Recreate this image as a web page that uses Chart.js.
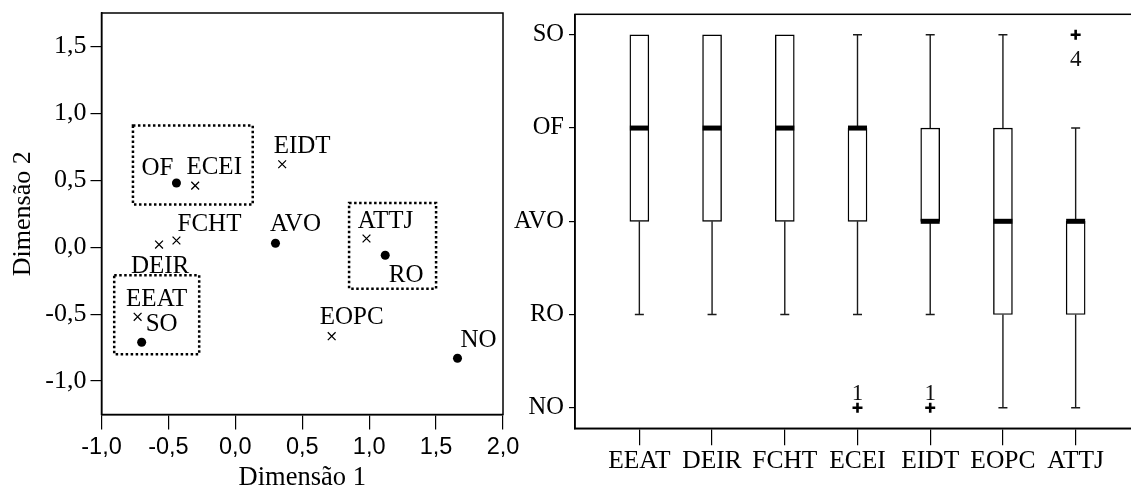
<!DOCTYPE html>
<html>
<head>
<meta charset="utf-8">
<script src="https://cdn.jsdelivr.net/npm/chart.js@4.4.1/dist/chart.umd.min.js"></script>
<style>
  html, body { margin: 0; padding: 0; background: #fff; overflow: hidden; }
  #wrap { position: relative; width: 1131px; height: 494px; overflow: hidden; }
  #mapChart { position: absolute; left: 0; top: 0; }
  #boxChart { position: absolute; left: 500px; top: 0; }
</style>
</head>
<body>
<div id="wrap">
  <canvas id="mapChart" width="520" height="494"></canvas>
  <canvas id="boxChart" width="650" height="494"></canvas>
</div>
<script>
// Left: correspondence map (variables = x marks, answer levels = dots)
// Right: box plots of the answers per variable, ordinal scale NO..SO

const varNames = ['EEAT', 'DEIR', 'FCHT', 'ECEI', 'EIDT', 'EOPC', 'ATTJ'];
const varDim1 = [-0.73, -0.57, -0.44, -0.30, 0.35, 0.72, 0.98];
const varDim2 = [-0.52, 0.02, 0.05, 0.46, 0.62, -0.665, 0.065];

const levelNames = ['SO', 'OF', 'AVO', 'RO', 'NO'];
const levelDim1 = [-0.70, -0.44, 0.30, 1.12, 1.66];
const levelDim2 = [-0.71, 0.48, 0.03, -0.06, -0.83];

// dotted groupings: [dim1 from, dim1 to, dim2 from, dim2 to]
const groupBoxes = [
    [-0.765, 0.13, 0.32, 0.91],
    [0.85, 1.50, -0.31, 0.33],
    [-0.905, -0.27, -0.80, -0.21]
];

const dimTicks = [-1.0, -0.5, 0.0, 0.5, 1.0, 1.5, 2.0];
const dim2Ticks = [-1.0, -0.5, 0.0, 0.5, 1.0, 1.5];

// box plot, answers coded 1 = NO ... 5 = SO
const scaleNames = ['NO', 'RO', 'AVO', 'OF', 'SO'];
const boxMin = [2, 2, 2, 2, 2, 1, 1];
const boxQ1  = [3, 3, 3, 3, 3, 2, 2];
const boxMed = [4, 4, 4, 4, 3, 3, 3];
const boxQ3  = [5, 5, 5, 4, 4, 4, 3];
const boxMax = [5, 5, 5, 5, 5, 5, 4];
const outlierVar = [3, 4, 6];
const outlierVal = [1, 1, 5];
const outlierCase = ['1', '1', '4'];

// label placement (px from the mark: text centre x, baseline y)
const varLabelShift = [[19, -11], [1, 28], [33, -10], [19, -12], [20, -11], [20, -12], [19, -11]];
const levelLabelShift = [[20, -11], [-19, -8], [20, -12], [21, 27], [21, -11]];

const serif = "'Liberation Serif', 'Times New Roman', serif";
const sans = "'Liberation Sans', Arial, sans-serif";
Chart.defaults.color = '#000';
Chart.defaults.font.family = serif;
Chart.defaults.animation = false;

const comma = v => Number(v).toFixed(1).replace('.', ',');
// keep tick labels from pushing the plot area around
const noPad = s => { s.paddingTop = 0; s.paddingBottom = 0; s.paddingLeft = 0; s.paddingRight = 0; };

const framePlugin = {
    id: 'frame',
    afterDraw(chart) {
        const { ctx, chartArea: a } = chart;
        ctx.save();
        ctx.strokeStyle = '#000';
        ctx.lineWidth = 1.5;
        ctx.strokeRect(a.left, a.top, a.right - a.left, a.bottom - a.top);
        ctx.restore();
    }
};

const mapNotes = {
    id: 'mapNotes',
    afterDatasetsDraw(chart) {
        const { ctx, scales: { x, y } } = chart;
        ctx.save();
        // dotted group boxes
        ctx.strokeStyle = '#000';
        ctx.lineWidth = 2.5;
        ctx.setLineDash([2.5, 2.5]);
        for (const b of groupBoxes) {
            const x0 = x.getPixelForValue(b[0]), x1 = x.getPixelForValue(b[1]);
            const y0 = y.getPixelForValue(b[3]), y1 = y.getPixelForValue(b[2]);
            ctx.strokeRect(x0, y0, x1 - x0, y1 - y0);
        }
        ctx.setLineDash([]);
        // labels
        ctx.font = '25px ' + serif;
        ctx.fillStyle = '#000';
        ctx.textAlign = 'center';
        ctx.textBaseline = 'alphabetic';
        varNames.forEach((n, i) => {
            const px = x.getPixelForValue(varDim1[i]), py = y.getPixelForValue(varDim2[i]);
            ctx.fillText(n, px + varLabelShift[i][0], py + varLabelShift[i][1]);
        });
        levelNames.forEach((n, i) => {
            const px = x.getPixelForValue(levelDim1[i]), py = y.getPixelForValue(levelDim2[i]);
            ctx.fillText(n, px + levelLabelShift[i][0], py + levelLabelShift[i][1]);
        });
        ctx.restore();
    }
};

new Chart(document.getElementById('mapChart'), {
    type: 'scatter',
    data: {
        datasets: [
            {
                label: 'Variáveis',
                data: varNames.map((n, i) => ({ x: varDim1[i], y: varDim2[i] })),
                pointStyle: 'crossRot',
                pointRadius: 5.5,
                borderColor: '#000',
                backgroundColor: '#000',
                borderWidth: 1.3
            },
            {
                label: 'Categorias',
                data: levelNames.map((n, i) => ({ x: levelDim1[i], y: levelDim2[i] })),
                pointStyle: 'circle',
                pointRadius: 4.5,
                borderWidth: 0,
                backgroundColor: '#000'
            }
        ]
    },
    options: {
        responsive: false,
        layout: { padding: { top: 13, right: 17, left: 0, bottom: 0 } },
        plugins: { legend: { display: false }, tooltip: { enabled: false } },
        scales: {
            x: {
                type: 'linear', min: -1, max: 2,
                afterBuildTicks: s => { s.ticks = dimTicks.map(v => ({ value: v })); },
                afterFit: s => { s.height = 79.5; noPad(s); },
                ticks: { callback: v => comma(v), font: { family: sans, size: 23.5 }, padding: 4, maxRotation: 0, autoSkip: false },
                grid: { drawOnChartArea: false, tickLength: 15, color: '#000', lineWidth: 1.2 },
                border: { color: '#000', width: 1.5 },
                title: { display: true, text: 'Dimensão 1', font: { size: 26.5 }, padding: { top: 0, bottom: 0 } }
            },
            y: {
                type: 'linear', min: -1.25, max: 1.75,
                afterBuildTicks: s => { s.ticks = dim2Ticks.map(v => ({ value: v })); },
                afterFit: s => { s.width = 101.5; noPad(s); },
                ticks: { callback: v => comma(v), font: { size: 26 }, padding: 4, autoSkip: false },
                grid: { drawOnChartArea: false, tickLength: 11, color: '#000', lineWidth: 1.2 },
                border: { color: '#000', width: 1.5 },
                title: { display: true, text: 'Dimensão 2', font: { size: 26 }, padding: { top: 8, bottom: 0 } }
            }
        }
    },
    plugins: [framePlugin, mapNotes]
});

// whiskers, caps, medians and outlier case numbers
const boxNotes = {
    id: 'boxNotes',
    afterDatasetsDraw(chart) {
        const { ctx, scales: { x, y } } = chart;
        const half = 9.5, cap = 4.5;
        ctx.save();
        ctx.strokeStyle = '#1a1a1a';
        ctx.lineWidth = 1.4;
        varNames.forEach((n, i) => {
            const cx = x.getPixelForValue(i);
            const segs = [[boxQ3[i], boxMax[i]], [boxQ1[i], boxMin[i]]];
            for (const [from, to] of segs) {
                if (from === to) continue;
                const y0 = y.getPixelForValue(from), y1 = y.getPixelForValue(to);
                ctx.beginPath();
                ctx.moveTo(cx, y0);
                ctx.lineTo(cx, y1);
                ctx.moveTo(cx - cap, y1);
                ctx.lineTo(cx + cap, y1);
                ctx.stroke();
            }
            ctx.fillStyle = '#000';
            const my = y.getPixelForValue(boxMed[i]);
            ctx.fillRect(cx - half, my - 2.5, half * 2, 5);
        });
        ctx.font = '23px ' + serif;
        ctx.fillStyle = '#111';
        ctx.textAlign = 'center';
        ctx.textBaseline = 'middle';
        outlierCase.forEach((c, k) => {
            const px = x.getPixelForValue(outlierVar[k]);
            const py = y.getPixelForValue(outlierVal[k]);
            ctx.fillText(c, px, outlierVal[k] >= 4.5 ? py + 25 : py - 14);
        });
        ctx.restore();
    }
};

new Chart(document.getElementById('boxChart'), {
    type: 'bar',
    data: {
        datasets: [
            {
                type: 'bar',
                data: varNames.map((n, i) => ({ x: i, y: [boxQ1[i], boxQ3[i]] })),
                backgroundColor: '#fff',
                borderColor: '#000',
                borderWidth: 1.4,
                borderSkipped: false,
                barThickness: 19
            },
            {
                type: 'scatter',
                data: outlierVar.map((v, k) => ({ x: v, y: outlierVal[k] })),
                pointStyle: 'cross',
                pointRadius: 5,
                borderWidth: 2.6,
                borderColor: '#000'
            }
        ]
    },
    options: {
        responsive: false,
        layout: { padding: { top: 14.3, right: 10, left: 0, bottom: 0 } },
        plugins: { legend: { display: false }, tooltip: { enabled: false } },
        scales: {
            x: {
                type: 'linear', min: -0.885, max: 6.885, offset: false,
                afterBuildTicks: s => { s.ticks = varNames.map((n, i) => ({ value: i })); },
                afterFit: s => { s.height = 65.7; noPad(s); },
                ticks: { callback: v => varNames[v], font: { size: 25.5 }, padding: 1, maxRotation: 0, autoSkip: false },
                grid: { drawOnChartArea: false, offset: false, tickLength: 17, color: '#000', lineWidth: 1.2 },
                border: { color: '#000', width: 1.5 }
            },
            y: {
                type: 'linear', min: 0.78, max: 5.22,
                afterBuildTicks: s => { s.ticks = scaleNames.map((n, i) => ({ value: i + 1 })); },
                afterFit: s => { s.width = 75; noPad(s); },
                ticks: { callback: v => scaleNames[v - 1], font: { size: 24.5 }, padding: 5, autoSkip: false },
                grid: { drawOnChartArea: false, tickLength: 6, color: '#000', lineWidth: 1.2 },
                border: { color: '#000', width: 1.5 }
            }
        }
    },
    plugins: [framePlugin, boxNotes]
});
</script>
</body>
</html>
